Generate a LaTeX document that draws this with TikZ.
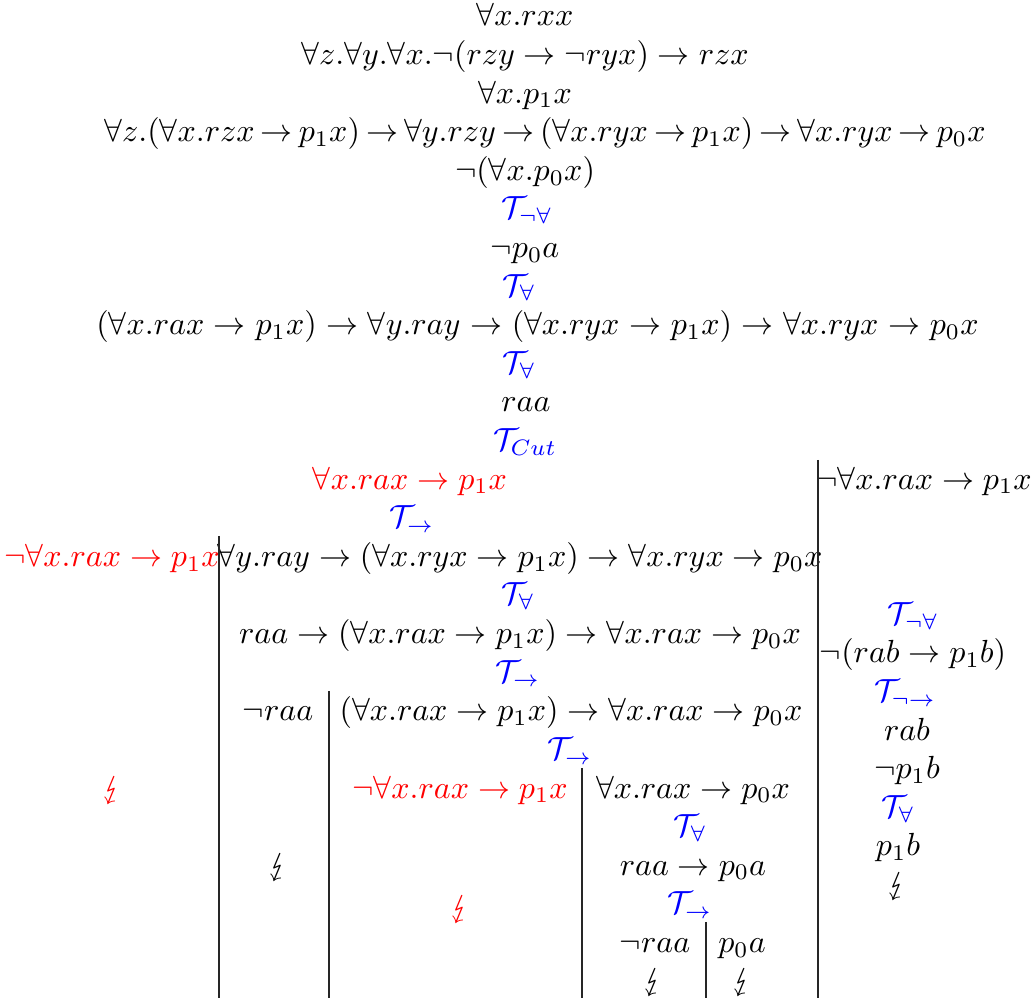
\documentclass[tikz,border=0pt]{standalone}
\usepackage{amsmath,amssymb,stmaryrd}
\begin{document}
\begin{tikzpicture}[x=0.3125pt,y=-0.3125pt,
  f/.style={anchor=base,inner sep=0pt,font=\fontsize{9.7pt}{11.5pt}\selectfont},
  rl/.style={f,text=blue},
  hl/.style={f,text=red},
  br/.style={draw=black!85,line width=0.4pt}]
\useasboundingbox (0,0) rectangle (1035,1000);
\begin{scope}[yshift=-0.9375pt]
\node[f] (r1) at (525,23) {$\forall x.rxx$};
\node[f] (r2) at (525,61.6) {$\forall z.\forall y.\forall x.\neg(rzy\to\neg ryx)\to rzx$};
\node[f] (r3) at (525,100.2) {$\forall x.p_1x$};
\node[f] (r4) at (545,138.8) {\thickmuskip=3.4mu$\forall z.(\forall x.rzx\to p_1x)\to\forall y.rzy\to(\forall x.ryx\to p_1x)\to\forall x.ryx\to p_0x$};
\node[f] (r5) at (525,177.4) {$\neg(\forall x.p_0x)$};
\node[rl] (r6) at (527,216) {$\mathcal{T}_{\neg\forall}$};
\node[f] (r7) at (525,254.6) {$\neg p_0a$};
\node[rl] (r8) at (519,293.2) {$\mathcal{T}_{\forall}$};
\node[f] (r9) at (537.5,331.8) {\thickmuskip=5.4mu$(\forall x.rax\to p_1x)\to\forall y.ray\to(\forall x.ryx\to p_1x)\to\forall x.ryx\to p_0x$};
\node[rl] (r10) at (519,370.4) {$\mathcal{T}_{\forall}$};
\node[f] (r11) at (526,409) {$raa$};
\node[rl] (r12) at (525,447.6) {$\mathcal{T}_{Cut}$};
% cut branches
\node[hl] (c1) at (410,486.2) {$\forall x.rax\to p_1x$};
\node[f] (c2) at (924,486.2) {$\neg\forall x.rax\to p_1x$};
\node[rl] (c1t) at (412,524.8) {$\mathcal{T}_{\to}$};
\node[hl] (a1) at (112,563.4) {$\neg\forall x.rax\to p_1x$};
\node[f] (a2) at (520,563.4) {$\forall y.ray\to(\forall x.ryx\to p_1x)\to\forall x.ryx\to p_0x$};
\node[rl] (a2t) at (518,602) {$\mathcal{T}_{\forall}$};
\node[f] (a3) at (520,640.6) {$raa\to(\forall x.rax\to p_1x)\to\forall x.rax\to p_0x$};
\node[rl] (a3t) at (518,679.2) {$\mathcal{T}_{\to}$};
\node[f] (b1) at (278,717.8) {$\neg raa$};
\node[f] (b2) at (571,717.8) {$(\forall x.rax\to p_1x)\to\forall x.rax\to p_0x$};
\node[rl] (b2t) at (570,756.4) {$\mathcal{T}_{\to}$};
\node[hl] (a1x) at (112,795) {$\lightning$};
\node[hl] (d1) at (460,795) {$\neg\forall x.rax\to p_1x$};
\node[f] (d2) at (693,795) {$\forall x.rax\to p_0x$};
\node[rl] (d2t) at (690,833.6) {$\mathcal{T}_{\forall}$};
\node[f] (b1x) at (278,872.2) {$\lightning$};
\node[f] (d3) at (693,872.2) {$raa\to p_0a$};
\node[rl] (d3t) at (690,910.8) {$\mathcal{T}_{\to}$};
\node[hl] (d1x) at (460,914) {$\lightning$};
\node[f] (e1) at (655,949.4) {$\neg raa$};
\node[f] (e2) at (742,949.4) {$p_0a$};
\node[f] (e1x) at (653,988) {$\lightning$};
\node[f] (e2x) at (742,988) {$\lightning$};
% right branch
\node[rl] (g1) at (913,621.3) {$\mathcal{T}_{\neg\forall}$};
\node[f] (g2) at (913,659.9) {$\neg(rab\to p_1b)$};
\node[rl] (g3) at (905,698.5) {$\mathcal{T}_{\neg\to}$};
\node[f] (g4) at (907,737.1) {$rab$};
\node[f] (g5) at (907,775.7) {$\neg p_1b$};
\node[rl] (g6) at (898,814.3) {$\mathcal{T}_{\forall}$};
\node[f] (g7) at (898,852.9) {$p_1b$};
\node[f] (g8) at (897,891.5) {$\lightning$};
\end{scope}
% branch separators
\coordinate (s1t) at (818,460); \coordinate (s1b) at (818,998);
\coordinate (s2t) at (219,536); \coordinate (s2b) at (219,998);
\coordinate (s3t) at (329,691); \coordinate (s3b) at (329,998);
\coordinate (s4t) at (582,768); \coordinate (s4b) at (582,998);
\coordinate (s5t) at (706,922); \coordinate (s5b) at (706,998);
\draw[br] (s1t) -- (s1b);
\draw[br] (s2t) -- (s2b);
\draw[br] (s3t) -- (s3b);
\draw[br] (s4t) -- (s4b);
\draw[br] (s5t) -- (s5b);
\end{tikzpicture}
\end{document}
